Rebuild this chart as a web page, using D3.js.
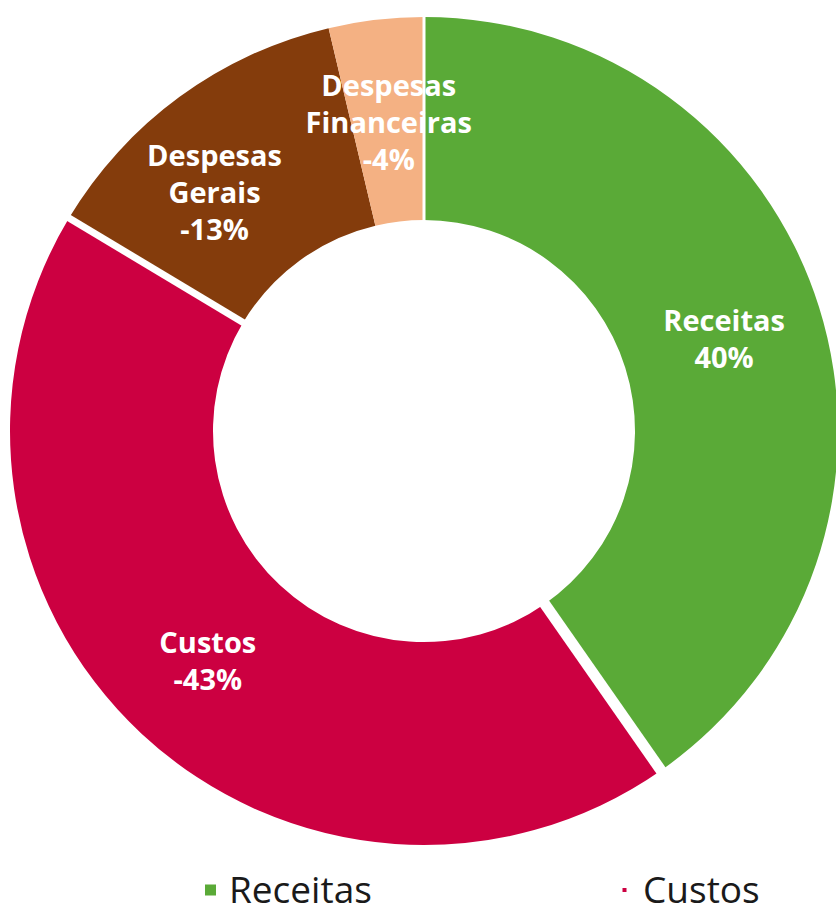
<!DOCTYPE html>
<html>
<head>
<meta charset="utf-8">
<script src="https://cdn.jsdelivr.net/npm/d3@7"></script>
<style>
  html, body { margin: 0; padding: 0; background: #ffffff; }
  svg { display: block; }
</style>
</head>
<body>
<svg id="chart" width="836" height="906"></svg>
<script>
// ---- data ----
const categories = ["Receitas", "Custos", "Despesas Gerais", "Despesas Financeiras"];
const labelLines = [["Receitas"], ["Custos"], ["Despesas", "Gerais"], ["Despesas", "Financeiras"]];
const shares = [40.3, 43.3, 12.7, 3.7];          // slice sizes
const displayValues = ["40%", "-43%", "-13%", "-4%"];
const colors = ["#5aaa37", "#cc0041", "#843c0c", "#f4b183"];
const legendItems = ["Receitas", "Custos"];

// ---- layout ----
const cx = 424, cy = 431;
const outerR = 414, innerR = 211;

const svg = d3.select("#chart");
const g = svg.append("g").attr("transform", `translate(${cx},${cy})`);

const pie = d3.pie().sort(null).value(d => d.v);
const data = categories.map((c, i) => ({ name: c, v: shares[i], i }));
const arcs = pie(data);

const arc = d3.arc().innerRadius(innerR).outerRadius(outerR);
const midR = (innerR + outerR) / 2;
const labelArc = d3.arc().innerRadius(midR).outerRadius(midR);

g.selectAll("path.slice")
  .data(arcs)
  .join("path")
  .attr("class", "slice")
  .attr("d", arc)
  .attr("fill", (d, i) => colors[i]);

// white separators at the start of each slice (widths as in the reference)
const sepWidth = [3, 11, 7, 0];
g.selectAll("line.sep")
  .data(arcs)
  .join("line")
  .attr("class", "sep")
  .attr("x1", d => Math.sin(d.startAngle) * (innerR - 2))
  .attr("y1", d => -Math.cos(d.startAngle) * (innerR - 2))
  .attr("x2", d => Math.sin(d.startAngle) * (outerR + 2))
  .attr("y2", d => -Math.cos(d.startAngle) * (outerR + 2))
  .attr("stroke", "#ffffff")
  .attr("stroke-width", (d, i) => sepWidth[i]);

// labels
const lineH = 37;
const nudge = [[2, 0], [-3, 0], [-25, 12], [1, 0]];
g.selectAll("text.lbl")
  .data(arcs)
  .join("text")
  .attr("class", "lbl")
  .attr("text-anchor", "middle")
  .attr("font-family", "'Open Sans', sans-serif")
  .attr("font-weight", "bold")
  .attr("font-size", 29)
  .attr("fill", "#ffffff")
  .each(function (d, i) {
    const [x0, y0] = labelArc.centroid(d);
    const x = x0 + nudge[i][0], y = y0 + nudge[i][1];
    const lines = labelLines[i].concat([displayValues[i]]);
    const n = lines.length;
    const t = d3.select(this);
    lines.forEach((ln, k) => {
      t.append("tspan")
        .attr("x", x)
        .attr("y", y + (k - (n - 1) / 2) * lineH + 12)
        .text(ln);
    });
  });

// legend
const legendX = [205, 619];
const legendMarker = [11, 4];
const legend = svg.append("g");
legendItems.forEach((name, k) => {
  const ci = categories.indexOf(name);
  const s = legendMarker[k];
  legend.append("rect")
    .attr("x", legendX[k] + (11 - s) / 2)
    .attr("y", 890 - s / 2)
    .attr("width", s)
    .attr("height", s)
    .attr("fill", colors[ci]);
  legend.append("text")
    .attr("x", legendX[k] + 24)
    .attr("y", 903)
    .attr("font-family", "'Open Sans', sans-serif")
    .attr("font-size", 37)
    .attr("fill", "#1a1a1a")
    .text(name);
});
</script>
</body>
</html>
